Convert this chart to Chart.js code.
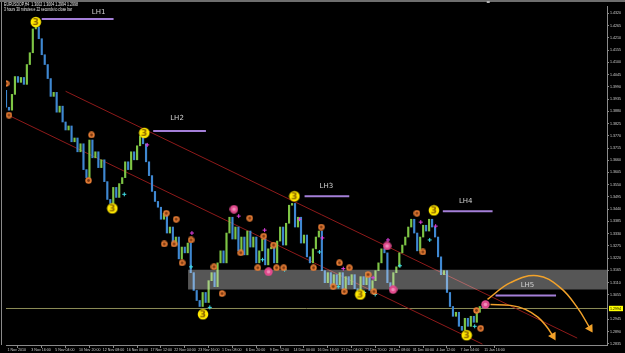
<!DOCTYPE html>
<html>
<head>
<meta charset="utf-8">
<title>EURUSD H4</title>
<script src="https://cdn.jsdelivr.net/npm/chart.js@4.4.0/dist/chart.umd.min.js"></script>
<style>
    html, body { margin: 0; padding: 0; background: #000; }
    #wrap { width: 625px; height: 353px; }
</style>
</head>
<body>
<div id="wrap"><canvas id="chart" width="625" height="353"></canvas></div>
<script>
// ============================================
// Data
// ============================================

// price trace, one value per bar slot (x = slot index)
const prices = [
    1.3974, 1.3898, 1.3885, 1.3956, 1.4036, 1.4010, 1.4032, 1.4001, 1.4090, 1.4143,
    1.4250, 1.4259, 1.4206, 1.4134, 1.4090, 1.4027, 1.3947, 1.3965, 1.3876, 1.3903,
    1.3832, 1.3796, 1.3814, 1.3743, 1.3760, 1.3698, 1.3734, 1.3618, 1.3582, 1.3751,
    1.3671, 1.3698, 1.3627, 1.3662, 1.3564, 1.3484, 1.3466, 1.3538, 1.3493, 1.3555,
    1.3582, 1.3653, 1.3618, 1.3698, 1.3662, 1.3725, 1.3769, 1.3734, 1.3653, 1.3591,
    1.3520, 1.3475, 1.3449, 1.3395, 1.3422, 1.3333, 1.3360, 1.3279, 1.3315, 1.3217,
    1.3270, 1.3244, 1.3288, 1.3155, 1.3075, 1.3030, 1.3003, 1.3066, 1.3021, 1.3119,
    1.3155, 1.3092, 1.3199, 1.3253, 1.3199, 1.3333, 1.3404, 1.3306, 1.3360, 1.3253,
    1.3315, 1.3235, 1.3342, 1.3270, 1.3315, 1.3199, 1.3253, 1.3306, 1.3190, 1.3262,
    1.3270, 1.3199, 1.3297, 1.3360, 1.3279, 1.3377, 1.3458, 1.3466, 1.3360, 1.3404,
    1.3288, 1.3324, 1.3226, 1.3199, 1.3262, 1.3315, 1.3342, 1.3164, 1.3110, 1.3155,
    1.3092, 1.3146, 1.3101, 1.3155, 1.3083, 1.3137, 1.3101, 1.3146, 1.3083, 1.3075,
    1.3137, 1.3101, 1.3155, 1.3075, 1.3119, 1.3164, 1.3199, 1.3262, 1.3244, 1.3110,
    1.3092, 1.3155, 1.3181, 1.3244, 1.3279, 1.3315, 1.3360, 1.3395, 1.3333, 1.3253,
    1.3315, 1.3368, 1.3342, 1.3395, 1.3360, 1.3315, 1.3226, 1.3146, 1.3164, 1.3066,
    1.3003, 1.2959, 1.2977, 1.2914, 1.2896, 1.2950, 1.2914, 1.2959, 1.2932, 1.2977,
    1.3003, 1.2998
];

// time axis: one label every 8 slots
const timeLabels = [
    '1 Nov 2010', '3 Nov 16:00', '5 Nov 04:00', '10 Nov 20:00', '12 Nov 08:00',
    '16 Nov 00:00', '17 Nov 12:00', '22 Nov 04:00', '23 Nov 16:00', '1 Dec 08:00',
    '6 Dec 20:00', '9 Dec 12:00', '14 Dec 00:00', '16 Dec 16:00', '21 Dec 04:00',
    '22 Dec 20:00', '28 Dec 08:00', '31 Dec 00:00', '4 Jan 12:00', '7 Jan 04:00',
    '11 Jan 16:00'
];
const labelEvery = 8;

// price axis labels (1.3000 is hidden behind the bid label)
const priceTicks = [
    1.4320, 1.4265, 1.4210, 1.4155, 1.4100, 1.4045, 1.3990, 1.3935, 1.3880, 1.3825,
    1.3770, 1.3715, 1.3660, 1.3605, 1.3550, 1.3495, 1.3440, 1.3385, 1.3330, 1.3275,
    1.3220, 1.3165, 1.3110, 1.3055, 1.2945, 1.2890, 1.2835
];

const bidPrice = 1.2994;
const infoLine1 = 'EURUSDOP,H4  1.3002 1.3004 1.2994 1.2998';
const infoLine2 = '3 hours 30 minutes e 22 seconds to close bar';

// yellow "3" fractal markers [slot, price]
const fractalPoints = [
    [10.0, 1.4281], [46.4, 1.3783], [35.7, 1.3444], [66.1, 1.2968],
    [96.8, 1.3498], [118.9, 1.3057], [143.6, 1.3435], [154.6, 1.2874]
];

// orange swing circles
const orangePoints = [
    [0.0, 1.4005], [1.0, 1.3863], [28.7, 1.3774], [27.7, 1.3569], [53.8, 1.3422],
    [57.1, 1.3395], [53.1, 1.3284], [56.4, 1.3284], [62.1, 1.3302], [59.1, 1.3199],
    [69.8, 1.3181], [72.5, 1.3061], [78.8, 1.3244], [86.5, 1.3319], [84.5, 1.3177],
    [89.8, 1.3279], [90.8, 1.3177], [93.2, 1.3177], [103.2, 1.3177], [105.8, 1.3360],
    [111.9, 1.3199], [115.2, 1.3177], [109.8, 1.3092], [113.5, 1.3070], [121.5, 1.3146],
    [123.5, 1.3070], [81.8, 1.3400], [137.9, 1.3422], [139.9, 1.3248], [159.3, 1.2905],
    [157.9, 1.2985]
];

// pink circles
const pinkPoints = [
    [76.5, 1.3440], [88.1, 1.3159], [127.9, 1.3275], [129.9, 1.3079], [160.9, 1.3012]
];

// small magenta crosses
const magentaCrosses = [
    [62.4, 1.3333], [86.8, 1.3346], [106.2, 1.3311], [113.2, 1.3173], [123.2, 1.3132],
    [128.2, 1.3302], [78.1, 1.3409], [98.5, 1.3395], [139.2, 1.3382], [144.2, 1.3364],
    [47.4, 1.3729]
];

// small cyan crosses
const cyanCrosses = [
    [62.1, 1.3181], [86.1, 1.3213], [93.5, 1.3168], [105.2, 1.3248], [111.5, 1.3092],
    [120.2, 1.3066], [123.9, 1.3057], [132.2, 1.3186], [68.4, 1.2999], [142.2, 1.3302],
    [157.3, 1.2914], [39.7, 1.3507]
];

// channel lines
const upperChannel = [[20.0, 1.3970], [191.7, 1.2861]];
const lowerChannel = [[0.7, 1.3863], [159.9, 1.2834]];

// support / resistance zone
const zoneStart = 61.1;
const zoneEnd = 201.7;
const zoneHigh = 1.3168;
const zoneLow = 1.3079;

// lower high lines
const lhNames = ['LH1', 'LH2', 'LH3', 'LH4', 'LH5'];
const lhStart = [12.0, 49.4, 100.2, 146.6, 164.3];
const lhEnd = [36.1, 67.1, 115.2, 163.3, 184.6];
const lhPrice = [1.4295, 1.3791, 1.3498, 1.3431, 1.3052];
const lhLabelX = [31.1, 57.4, 107.5, 154.3, 175.0];
const lhLabelY = [1.4326, 1.3849, 1.3542, 1.3475, 1.3097];

// projected paths (orange arrows)
const arcHigh = [[161.6, 1.3035], [169.3, 1.3110], [178.3, 1.3141], [186.0, 1.3088], [191.7, 1.2999], [196.0, 1.2905]];
const arcLow = [[162.6, 1.3012], [169.3, 1.3008], [174.3, 1.2990], [178.6, 1.2954], [181.6, 1.2910], [183.6, 1.2870]];

// ============================================
// Helpers
// ============================================

function toXY(list) {
    return list.map(function (p) { return { x: p[0], y: p[1] }; });
}

function makeFractalIcon() {
    const c = document.createElement('canvas');
    c.width = 12; c.height = 12;
    const g = c.getContext('2d');
    g.beginPath();
    g.arc(6, 6, 5.3, 0, Math.PI * 2);
    g.fillStyle = '#ffe800';
    g.fill();
    g.fillStyle = '#8a6400';
    g.font = 'bold 9px "DejaVu Sans"';
    g.textAlign = 'center';
    g.textBaseline = 'middle';
    g.fillText('3', 6, 6.5);
    return c;
}

function makeDotIcon(size, outer, inner) {
    const c = document.createElement('canvas');
    c.width = size; c.height = size;
    const g = c.getContext('2d');
    g.beginPath();
    g.arc(size / 2, size / 2, size / 2 - 0.3, 0, Math.PI * 2);
    g.fillStyle = outer;
    g.fill();
    g.beginPath();
    g.arc(size / 2, size / 2, size / 5, 0, Math.PI * 2);
    g.fillStyle = inner;
    g.fill();
    return c;
}

function arrowRotation(n, angle) {
    const r = [];
    for (let i = 0; i < n; i++) r.push(i === n - 1 ? angle : 0);
    return r;
}

function arrowRadius(n) {
    const r = [];
    for (let i = 0; i < n; i++) r.push(i === n - 1 ? 3.5 : 0);
    return r;
}

// ============================================
// Datasets
// ============================================

const barData = [];
for (let i = 0; i < prices.length - 1; i++) {
    barData.push({ x: i, y: [prices[i], prices[i + 1]] });
}

const datasets = [];

datasets.push({
    type: 'line', label: 'upper channel', data: toXY(upperChannel),
    borderColor: '#8e1a1a', borderWidth: 1, pointRadius: 0, order: 10
});
datasets.push({
    type: 'line', label: 'lower channel', data: toXY(lowerChannel),
    borderColor: '#8e1a1a', borderWidth: 1, pointRadius: 0, order: 10
});
datasets.push({
    type: 'line', label: 'bid', data: [{ x: 0, y: bidPrice }, { x: zoneEnd, y: bidPrice }],
    borderColor: '#8d8d58', borderWidth: 1, pointRadius: 0, order: 10
});

datasets.push({
    type: 'bar', label: 'price', data: barData,
    barThickness: 1.5,
    backgroundColor: function (ctx) {
        const v = ctx.raw ? ctx.raw.y : [0, 0];
        return v[1] >= v[0] ? '#7ec545' : '#3f88d2';
    },
    order: 8
});

datasets.push({
    type: 'line', label: 'zone top', data: [{ x: zoneStart, y: zoneHigh }, { x: zoneEnd, y: zoneHigh }],
    borderColor: 'rgba(0,0,0,0)', borderWidth: 0, pointRadius: 0,
    fill: '+1', backgroundColor: 'rgba(225,225,225,0.38)', order: 6
});
datasets.push({
    type: 'line', label: 'zone bottom', data: [{ x: zoneStart, y: zoneLow }, { x: zoneEnd, y: zoneLow }],
    borderColor: 'rgba(0,0,0,0)', borderWidth: 0, pointRadius: 0, order: 6
});

for (let i = 0; i < lhNames.length; i++) {
    datasets.push({
        type: 'line', label: lhNames[i],
        data: [{ x: lhStart[i], y: lhPrice[i] }, { x: lhEnd[i], y: lhPrice[i] }],
        borderColor: '#a47fd8', borderWidth: 2, pointRadius: 0, order: 5
    });
}

datasets.push({
    type: 'line', label: 'orange', data: toXY(orangePoints), showLine: false,
    pointStyle: makeDotIcon(7, '#e57c35', '#7a3810'), pointRadius: 3, order: 3
});
datasets.push({
    type: 'line', label: 'pink', data: toXY(pinkPoints), showLine: false,
    pointStyle: makeDotIcon(9, '#e04a8c', '#f08cb8'), pointRadius: 4, order: 3
});
datasets.push({
    type: 'line', label: 'magenta', data: toXY(magentaCrosses), showLine: false,
    pointStyle: 'cross', pointRadius: 2, pointBorderColor: '#e040e0', pointBorderWidth: 1, order: 3
});
datasets.push({
    type: 'line', label: 'cyan', data: toXY(cyanCrosses), showLine: false,
    pointStyle: 'cross', pointRadius: 2, pointBorderColor: '#40e0e8', pointBorderWidth: 1, order: 3
});
datasets.push({
    type: 'line', label: 'fractal', data: toXY(fractalPoints), showLine: false,
    pointStyle: makeFractalIcon(), pointRadius: 5, order: 2
});

datasets.push({
    type: 'line', label: 'path high', data: toXY(arcHigh),
    borderColor: '#f2a22a', borderWidth: 1.5, tension: 0.4,
    pointStyle: 'triangle', pointRadius: arrowRadius(arcHigh.length),
    pointRotation: arrowRotation(arcHigh.length, 148),
    pointBackgroundColor: '#f2a22a', pointBorderColor: '#f2a22a', order: 1
});
datasets.push({
    type: 'line', label: 'path low', data: toXY(arcLow),
    borderColor: '#f2a22a', borderWidth: 1.5, tension: 0.4,
    pointStyle: 'triangle', pointRadius: arrowRadius(arcLow.length),
    pointRotation: arrowRotation(arcLow.length, 150),
    pointBackgroundColor: '#f2a22a', pointBorderColor: '#f2a22a', order: 1
});

// ============================================
// Terminal decoration plugin
// ============================================

const terminalDecor = {
    id: 'terminalDecor',
    beforeDraw(chart) {
        const ctx = chart.ctx;
        ctx.save();
        ctx.fillStyle = '#000';
        ctx.fillRect(0, 0, chart.width, chart.height);
        ctx.restore();
    },
    afterDatasetsDraw(chart) {
        const ctx = chart.ctx;
        const x = chart.scales.x;
        const y = chart.scales.y;
        ctx.save();
        ctx.font = '7px "DejaVu Sans"';
        ctx.fillStyle = '#d2d2d2';
        ctx.textAlign = 'center';
        ctx.textBaseline = 'middle';
        for (let i = 0; i < lhNames.length; i++) {
            ctx.fillText(lhNames[i], x.getPixelForValue(lhLabelX[i]), y.getPixelForValue(lhLabelY[i]));
        }
        ctx.restore();
    },
    afterDraw(chart) {
        const ctx = chart.ctx;
        const area = chart.chartArea;
        const x = chart.scales.x;
        const y = chart.scales.y;
        ctx.save();

        // frame
        ctx.fillStyle = '#6e6e6e';
        ctx.fillRect(0, 0, chart.width, 2);
        ctx.fillStyle = '#8a8a8a';
        ctx.fillRect(1, 2, 1, area.bottom - 2);

        // shift marker at top
        ctx.fillStyle = '#b0b0b0';
        ctx.fillRect(x.getPixelForValue(prices.length - 1) + 1, 1, 3, 2);

        // info text
        ctx.fillStyle = '#e8e8e8';
        ctx.font = '4.5px "Liberation Sans"';
        ctx.textBaseline = 'middle';
        ctx.textAlign = 'left';
        ctx.fillText(infoLine1, 4, 5, 74);
        ctx.fillText(infoLine2, 4, 9.5, 68);

        // bid label
        const by = y.getPixelForValue(bidPrice);
        ctx.fillStyle = '#ffff00';
        ctx.fillRect(area.right + 2, by - 2.7, 14, 5.4);
        ctx.fillStyle = '#000';
        ctx.font = '3.6px "Liberation Sans"';
        ctx.fillText(bidPrice.toFixed(4), area.right + 3, by + 0.2);

        ctx.restore();
    }
};

// ============================================
// Chart
// ============================================

const chart = new Chart(document.getElementById('chart'), {
    type: 'bar',
    data: { datasets: datasets },
    plugins: [terminalDecor],
    options: {
        responsive: false,
        animation: false,
        events: [],
        layout: { padding: { left: 3, top: 3, right: 0, bottom: 0 } },
        plugins: {
            legend: { display: false },
            tooltip: { enabled: false }
        },
        scales: {
            x: {
                type: 'linear',
                min: 0,
                max: 201.7,
                offset: false,
                afterBuildTicks: function (scale) {
                    scale.ticks = timeLabels.map(function (t, i) { return { value: i * labelEvery }; });
                },
                afterFit: function (scale) { scale.height = 8; },
                ticks: {
                    autoSkip: false,
                    maxRotation: 0,
                    minRotation: 0,
                    align: 'start',
                    labelOffset: 1.5,
                    padding: 0,
                    color: '#d0d0d0',
                    font: { family: 'Liberation Sans', size: 3.6 },
                    callback: function (v, i) { return timeLabels[i]; }
                },
                grid: { drawOnChartArea: false, drawTicks: true, tickLength: 3, color: '#8a8a8a' },
                border: { color: '#8a8a8a', width: 1 }
            },
            y: {
                type: 'linear',
                position: 'right',
                min: 1.2830,
                max: 1.4353,
                afterBuildTicks: function (scale) {
                    scale.ticks = priceTicks.map(function (v) { return { value: v }; });
                },
                afterFit: function (scale) { scale.width = 18; },
                ticks: {
                    autoSkip: false,
                    padding: 1,
                    color: '#d0d0d0',
                    font: { family: 'Liberation Sans', size: 3.6 },
                    callback: function (v) { return Number(v).toFixed(4); }
                },
                grid: { drawOnChartArea: false, drawTicks: true, tickLength: 2, color: '#8a8a8a' },
                border: { color: '#8a8a8a', width: 1 }
            }
        }
    }
});
</script>
</body>
</html>
